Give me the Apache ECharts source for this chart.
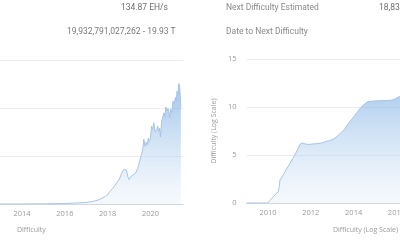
<!DOCTYPE html>
<html><head><meta charset="utf-8">
<script src="https://cdn.jsdelivr.net/npm/echarts@6/dist/echarts.min.js"></script>
<style>html,body{margin:0;padding:0;background:#fff;}#c{width:400px;height:240px;}</style>
</head><body><div id="c"></div>
<script>
// Linear chart: difficulty in trillions (T)
const linYears = [2009.0,2012.0,2014.0,2015.0,2016.0,2016.5,2017.0,2017.3,2017.6,2017.9,2018.0,2018.1,2018.25,2018.4,2018.55,2018.65,2018.75,2018.82,2018.88,2018.95,2019.0,2019.1,2019.2,2019.3,2019.4,2019.5,2019.55,2019.6,2019.65,2019.69,2019.75,2019.8,2019.85,2019.9,2019.95,2020.0,2020.05,2020.1,2020.16,2020.22,2020.29,2020.34,2020.38,2020.43,2020.47,2020.52,2020.57,2020.63,2020.68,2020.72,2020.77,2020.82,2020.86,2020.9,2020.94,2021.0,2021.05,2021.1,2021.17,2021.21,2021.24,2021.28,2021.33,2021.37,2021.40,2021.42];
const linValues = [0,0.000002,0.0014,0.04,0.1,0.2,0.32,0.5,0.9,1.6,1.9,2.6,3.3,4.3,5.2,6.4,7.2,7.45,7.0,5.6,5.1,5.8,6.1,6.4,7.4,9.0,9.9,10.6,11.8,13.5,12.0,12.9,12.3,13.7,13.0,13.8,16.2,15.5,16.9,15.0,15.5,16.2,15.1,15.8,14.0,17.2,16.8,19.0,18.2,20.2,19.4,19.9,19.2,18.0,19.8,19.0,21.4,20.8,22.2,21.5,23.5,23.0,25.1,24.0,23.6,20.1];

// Log chart: log10(difficulty)
const logYears = [2009.0,2010.0,2010.1,2010.25,2010.48,2010.52,2010.56,2010.71,2010.85,2011.02,2011.15,2011.26,2011.35,2011.49,2011.6,2011.75,2011.88,2012.1,2012.42,2012.7,2012.88,2013.1,2013.35,2013.55,2013.8,2014.05,2014.28,2014.45,2014.65,2014.9,2015.2,2015.5,2015.75,2015.95,2016.14,2016.5,2017.0,2017.5,2018.0,2018.5,2018.8,2019.0,2019.5,2020.0,2020.5,2021.0,2021.33,2021.42];
const logValues = [0,0,0.3,0.66,1.2,1.6,2.4,2.9,3.5,4.1,4.6,5.0,5.2,6.1,6.25,6.15,6.1,6.15,6.2,6.4,6.5,6.7,7.2,7.6,8.4,9.1,9.8,10.2,10.55,10.62,10.65,10.68,10.7,10.85,11.1,11.3,11.5,11.8,12.28,12.7,12.87,12.7,12.95,13.14,13.2,13.27,13.4,13.3];

const yearTicks = [2010,2012,2014,2016,2018,2020];
const linYTicks = [0,10,20,30];
const logYTicks = [0,5,10,15];

const toPairs = (xs, ys) => xs.map((x,i)=>[x, ys[i]]);
const chart = echarts.init(document.getElementById('c'), null, {renderer:'canvas'});
const lab = {color:'#9a9a9a', fontSize:7.5, fontFamily:'Open Sans'};
const area = {color:new echarts.graphic.LinearGradient(0,0,0,1,[{offset:0,color:'rgba(110,165,224,0.95)'},{offset:1,color:'rgba(225,237,250,0.45)'}])};
const xAx = (gi) => ({type:'value', gridIndex:gi, min:2009, max:2021.52, splitLine:{show:false},
  axisLine:{lineStyle:{color:'#d3d7de'}}, axisTick:{show:false},
  axisLabel:Object.assign({customValues:yearTicks, margin:6, formatter:v=>String(v)}, lab)});
const yAx = (gi, ticks, name) => ({type:'value', gridIndex:gi, min:ticks[0], max:ticks[ticks.length-1], interval:ticks[1]-ticks[0],
  splitLine:{lineStyle:{color:'#e9ebee'}}, axisLine:{show:false}, axisTick:{show:false},
  axisLabel:Object.assign({margin:10}, lab), name:name, nameLocation:'middle', nameGap:17,
  nameTextStyle:{color:'#9a9a9a', fontSize:7, fontFamily:'Open Sans'}});
chart.setOption({
  animation:false,
  grid:[{left:-85, width:268, top:60, height:144, outerBoundsMode:'none', containLabel:false},
        {left:246.6, width:268, top:59, height:144, outerBoundsMode:'none', containLabel:false}],
  xAxis:[xAx(0), xAx(1)],
  yAxis:[yAx(0, linYTicks, 'Difficulty'), yAx(1, logYTicks, 'Difficulty (Log Scale)')],
  series:[
    {type:'line', xAxisIndex:0, yAxisIndex:0, data:toPairs(linYears, linValues), showSymbol:false,
     lineStyle:{color:'#a7c4e4', width:1}, areaStyle:area},
    {type:'line', xAxisIndex:1, yAxisIndex:1, data:toPairs(logYears, logValues), showSymbol:false,
     lineStyle:{color:'#a7c4e4', width:1}, areaStyle:area}
  ],
  graphic:[
    {type:'text', x:168, y:3, style:{text:'134.87 EH/s', fill:'#6f6f6f', font:'8.5px Roboto', textAlign:'right'}},
    {type:'text', x:67, y:27, style:{text:'19,932,791,027,262 - 19.93 T', fill:'#7a7a7a', font:'8.5px Roboto'}},
    {type:'text', x:226, y:3, style:{text:'Next Difficulty Estimated', fill:'#8a8a8a', font:'8.5px Roboto'}},
    {type:'text', x:379, y:3, style:{text:'18,834,557,218,765 - 18.83 T', fill:'#6f6f6f', font:'8.5px Roboto'}},
    {type:'text', x:226, y:27, style:{text:'Date to Next Difficulty', fill:'#8a8a8a', font:'8.5px Roboto'}},
    {type:'text', x:17, y:226, style:{text:'Difficulty', fill:'#9a9a9a', font:'7px "Open Sans"'}},
    {type:'text', x:333, y:226, style:{text:'Difficulty (Log Scale)', fill:'#9a9a9a', font:'7px "Open Sans"'}}
  ]
});
</script></body></html>
